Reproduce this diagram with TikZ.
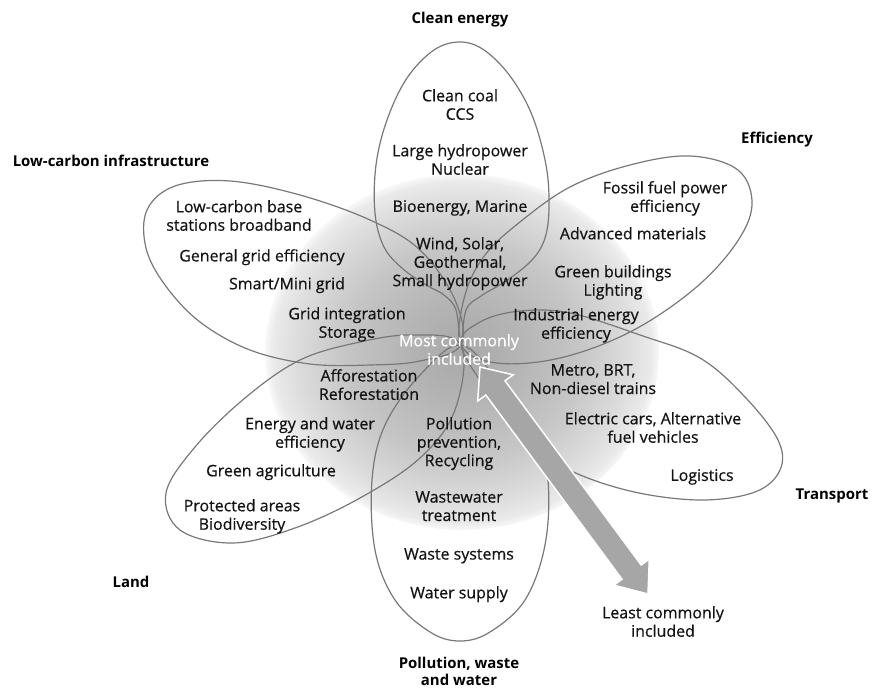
\documentclass[tikz,border=0pt]{standalone}
\usepackage{fontspec}
\setmainfont{Open Sans}
\newfontfamily\medfont{Open Sans}[FakeBold=0.6]
\definecolor{petalline}{RGB}{120,120,120}
\definecolor{arrowfill}{RGB}{166,166,166}
\definecolor{txt}{RGB}{20,20,20}
\definecolor{gA}{RGB}{168,168,168}
\definecolor{gB}{RGB}{180,180,180}
\definecolor{gC}{RGB}{198,198,198}
\definecolor{gD}{RGB}{220,220,220}
\definecolor{gE}{RGB}{234,234,234}
\pgfdeclareradialshading{glow}{\pgfpointorigin}{color(0bp)=(gA); color(7bp)=(gB); color(15bp)=(gC); color(21bp)=(gD); color(24bp)=(gE); color(25.5bp)=(white); color(50bp)=(white)}
\tikzset{
  petal/.style={draw=petalline, line width=1.2bp},
  body/.style={font=\medfont\fontsize{16}{18.5}\selectfont, text=txt, align=center, inner sep=0pt, anchor=north},
  title/.style={font=\fontsize{15}{17.5}\selectfont\bfseries, text=black, align=center, inner sep=0pt, anchor=north},
}
\begin{document}
\begin{tikzpicture}[x=1bp,y=-1bp]
\useasboundingbox (0,0) rectangle (872,689);
% central glow
\shade[shading=glow] (462,352) ellipse [x radius=197bp, y radius=178bp];
% petals
% clean energy
\draw[petal] plot[smooth cycle, tension=0.6] coordinates {(460,42) (484,50) (510,76) (532,115) (546,165) (549,207) (545,238) (532,260) (506,281) (481,296) (466,310) (461,345) (456,310) (444,295) (428,286) (403,269) (384,247) (375,213) (376,165) (387,120) (407,78) (434,50)};
% efficiency
\draw[petal] plot[smooth cycle, tension=0.6] coordinates {(461,345) (497,363) (560,358) (630,332) (693,290) (735,245) (752,205) (738,170) (690,156) (630,165) (570,187) (520,222) (485,255) (465,295)};
% low-carbon infrastructure
\draw[petal] plot[smooth cycle, tension=0.6] coordinates {(461,345) (455,300) (420,250) (370,220) (300,195) (230,181) (175,186) (147,210) (146,248) (165,285) (200,322) (250,350) (310,364) (370,365) (420,361)};
% transport
\draw[petal] plot[smooth cycle, tension=0.6] coordinates {(461,345) (480,322) (520,311) (570,313) (640,335) (700,358) (745,397) (778,440) (780,470) (755,492) (700,500) (630,491) (565,468) (520,435) (490,395)};
% pollution, waste and water
\draw[petal] plot[smooth cycle, tension=0.6] coordinates {(461,345) (500,383) (535,425) (548,480) (545,545) (525,600) (490,632) (460,641) (430,632) (395,600) (375,550) (372,480) (385,425) (420,375)};
% land
\draw[petal] plot[smooth cycle, tension=0.6] coordinates {(461,345) (413,335) (360,342) (300,360) (245,398) (195,447) (166,493) (180,530) (233,543) (295,528) (360,498) (420,458) (455,410)};
% arrow
\draw[white, line width=1.5bp, fill=arrowfill] (480,367) -- (513.1,374.8) -- (505.0,380.8) -- (641.2,565.0) -- (649.3,559.0) -- (648,594) -- (613.9,585.2) -- (622.0,579.2) -- (485.8,395.0) -- (477.7,401.0) -- cycle;
% titles
\node[title] (tce) at (460,12) {Clean energy};
\node[title] (tef) at (777,132) {Efficiency};
\node[title] (tlc) at (111,155) {Low-carbon infrastructure};
\node[title] (ttr) at (832,489) {Transport};
\node[title] (tla) at (131,576) {Land};
\node[title] (tpw) at (459,657) {Pollution, waste\\and water};
% clean energy items
\node[body] (ce1) at (460,89) {Clean coal\\CCS};
\node[body] (ce2) at (460,144) {Large hydropower\\Nuclear};
\node[body] (ce3) at (460,200) {Bioenergy, Marine};
\node[body] (ce4) at (460,237) {Wind, Solar,\\Geothermal,\\Small hydropower};
% efficiency items
\node[body] (ef1) at (665,181) {Fossil fuel power\\efficiency};
\node[body] (ef2) at (633,227) {Advanced materials};
\node[body] (ef3) at (613,265) {Green buildings\\Lighting};
\node[body] (ef4) at (576,308) {Industrial energy\\efficiency};
% low-carbon infrastructure items
\node[body] (lc1) at (239,200) {Low-carbon base\\stations broadband};
\node[body] (lc2) at (262,249) {General grid efficiency};
\node[body] (lc3) at (287,277) {Smart/Mini grid};
\node[body] (lc4) at (347,307) {Grid integration\\Storage};
% transport items
\node[body] (tr1) at (593,364) {Metro, BRT,\\Non-diesel trains};
\node[body] (tr2) at (653,412) {Electric cars, Alternative\\fuel vehicles};
\node[body] (tr3) at (702,469) {Logistics};
% land items
\node[body] (la1) at (369,369) {Afforestation\\Reforestation};
\node[body] (la2) at (310,417) {Energy and water\\efficiency};
\node[body] (la3) at (271,464) {Green agriculture};
\node[body] (la4) at (242,499) {Protected areas\\Biodiversity};
% pollution items
\node[body] (pw1) at (459,417) {Pollution\\prevention,\\Recycling};
\node[body] (pw2) at (459,491) {Wastewater\\treatment};
\node[body] (pw3) at (459,548) {Waste systems};
\node[body] (pw4) at (459,586) {Water supply};
% centre and arrow labels
\node[body, text=white] (most) at (459,334) {Most commonly\\included};
\node[body] (least) at (663,606) {Least commonly\\included};
\end{tikzpicture}
\end{document}
